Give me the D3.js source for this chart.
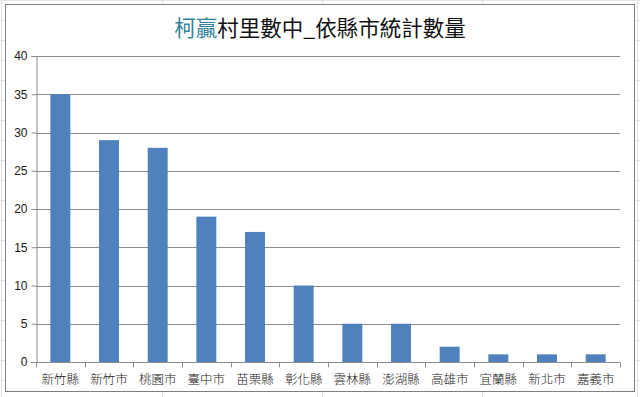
<!DOCTYPE html>
<html>
<head>
<meta charset="utf-8">
<script src="https://d3js.org/d3.v7.min.js"></script>
<style>
  body { margin: 0; background: #fff; }
  text { font-family: "Noto Sans CJK TC", "Noto Sans", sans-serif; }
</style>
</head>
<body>
<div id="chart"></div>
<script>
// data
const counties = ['新竹縣', '新竹市', '桃園市', '臺中市', '苗栗縣', '彰化縣', '雲林縣', '澎湖縣', '高雄市', '宜蘭縣', '新北市', '嘉義市'];
const counts = [35, 29, 28, 19, 17, 10, 5, 5, 2, 1, 1, 1];
const yTicks = [0, 5, 10, 15, 20, 25, 30, 35, 40];

const width = 640, height = 397;
const margin = {top: 56, right: 20, bottom: 35, left: 36};

const svg = d3.select('#chart').append('svg')
    .attr('width', width).attr('height', height);

// spreadsheet cells behind the chart
const bg = svg.append('g').attr('stroke', '#e2e2e2').attr('stroke-width', 1);
d3.range(0, height, 20).forEach(y => bg.append('line').attr('x1', 0).attr('x2', width).attr('y1', y + 0.5).attr('y2', y + 0.5));
[1, 162, 322, 482, 637].forEach(x => bg.append('line').attr('x1', x + 0.5).attr('x2', x + 0.5).attr('y1', 0).attr('y2', height));

// chart frame
svg.append('rect')
    .attr('x', 5.5).attr('y', 4.5).attr('width', 629).attr('height', 387)
    .attr('fill', '#fff').attr('stroke', '#7f7f7f');

const x = d3.scaleBand()
    .domain(counties)
    .range([margin.left, width - margin.right])
    .paddingInner(0.59).paddingOuter(0.295);

const y = d3.scaleLinear()
    .domain([0, 40])
    .range([height - margin.bottom, margin.top]);

// gridlines
svg.append('g')
    .selectAll('line')
    .data(yTicks.filter(d => d > 0))
    .join('line')
    .attr('x1', margin.left).attr('x2', width - margin.right)
    .attr('y1', d => Math.round(y(d)) + 0.5).attr('y2', d => Math.round(y(d)) + 0.5)
    .attr('stroke', '#8c8c8c');

// bars
svg.append('g')
    .selectAll('rect')
    .data(counts)
    .join('rect')
    .attr('x', (d, i) => x(counties[i]))
    .attr('y', d => y(d))
    .attr('width', x.bandwidth())
    .attr('height', d => y(0) - y(d))
    .attr('fill', '#4f81bd');

// y axis
const yAxis = svg.append('g')
    .attr('transform', `translate(${margin.left + 0.5},0)`)
    .call(d3.axisLeft(y).tickValues(yTicks).tickSize(5).tickPadding(4));
yAxis.selectAll('line, path').attr('stroke', '#8c8c8c');
yAxis.selectAll('text').attr('font-size', 12).attr('fill', '#1a1a1a')
    .style('font-family', '"Liberation Sans", Arial, sans-serif');

// x axis with ticks between categories
const xAxis = svg.append('g')
    .attr('transform', `translate(0,${Math.round(y(0)) + 0.5})`);
xAxis.append('line')
    .attr('x1', margin.left - 5).attr('x2', width - margin.right)
    .attr('stroke', '#8c8c8c');
const step = x.step();
xAxis.selectAll('.tick')
    .data(d3.range(counties.length + 1))
    .join('line')
    .attr('x1', i => Math.round(margin.left + i * step) + 0.5)
    .attr('x2', i => Math.round(margin.left + i * step) + 0.5)
    .attr('y1', 0).attr('y2', 5)
    .attr('stroke', '#8c8c8c');
xAxis.selectAll('text')
    .data(counties)
    .join('text')
    .attr('x', d => x(d) + x.bandwidth() / 2)
    .attr('y', 21)
    .attr('text-anchor', 'middle')
    .attr('font-size', 12.5)
    .attr('font-weight', 300)
    .attr('fill', '#1a1a1a')
    .text(d => d);

// title
const title = svg.append('text')
    .attr('x', 320).attr('y', 36)
    .attr('text-anchor', 'middle')
    .attr('font-size', 21.5);
title.append('tspan').attr('fill', '#31849b').text('柯贏');
title.append('tspan').attr('fill', '#111').text('村里數中_依縣市統計數量');
</script>
</body>
</html>
